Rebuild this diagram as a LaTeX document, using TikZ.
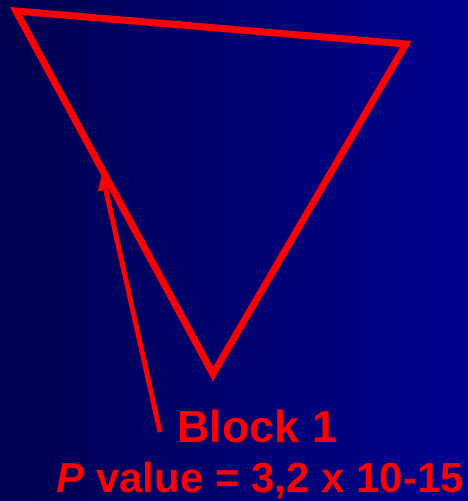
\documentclass[tikz,border=0pt]{standalone}
\usepackage{fontspec}
\setmainfont{Liberation Sans}
\usetikzlibrary{arrows.meta,positioning}
\definecolor{bgleft}{HTML}{000050}
\definecolor{bgright}{HTML}{00008E}
\definecolor{blockred}{HTML}{FF0000}

\begin{document}
\begin{tikzpicture}[x=1pt,y=-1pt,
  blockline/.style={draw=blockred,line width=7pt,miter limit=20},
  pointer/.style={draw=blockred,line width=5pt,-{Triangle[length=17pt,width=15pt]}},
  blocklabel/.style={text=blockred,inner sep=0pt}]
\fill[left color=bgleft,right color=bgright] (0,0) rectangle (468,501);
\useasboundingbox (0,0) rectangle (468,501);
% triangle of the block
\coordinate (apexA) at (16,11);
\coordinate (apexB) at (406,44);
\coordinate (apexC) at (213,374);
\draw[blockline] (apexA) -- (apexB) -- (apexC) -- cycle;
\node[blocklabel,font=\fontsize{45}{45}\selectfont\bfseries,anchor=base west] (block) at (177,442) {Block 1};
\node[blocklabel,font=\fontsize{42}{42}\selectfont\bfseries,anchor=base east] (pval) at (464,492) {\textit{P} value = 3,2 x 10-15};
% pointer onto the left side
\coordinate (tail) at (160,432);
\coordinate (tip) at (102,173);
\draw[pointer] (tail) -- (tip);
\end{tikzpicture}
\end{document}
